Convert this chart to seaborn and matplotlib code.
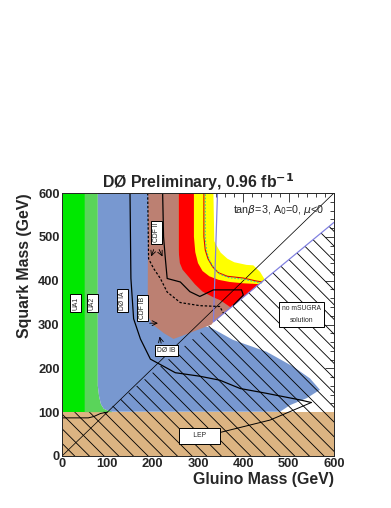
import numpy as np
import pandas as pd
import matplotlib
matplotlib.use('Agg')
import matplotlib.pyplot as plt
import seaborn as sns
from matplotlib.ticker import MultipleLocator

# excluded regions: gluino mass (x) vs squark mass (y), GeV
lep_gl = [0, 600, 600, 0]
lep_sq = [0, 0, 100, 100]

ua1_gl = [0, 50, 50, 0]
ua1_sq = [100, 100, 600, 600]

ua2_gl = [50, 79, 79, 82, 86, 92, 100, 110, 110, 50]
ua2_sq = [600, 600, 160, 135, 118, 108, 104, 102, 100, 100]

blue_gl = [79, 265, 265, 300, 330, 377, 451, 510, 547, 569, 540, 503, 481, 110, 100, 92, 86, 82, 79]
blue_sq = [600, 600, 330, 300, 292, 265, 238, 204, 177, 151, 132, 116, 101, 101, 104, 108, 118, 135, 160]

yellow_gl = [257, 334, 336, 341, 350, 365, 380, 407, 422, 437, 447, 395, 334, 257]
yellow_sq = [600, 600, 490, 480, 464, 450, 442, 436, 435, 420, 403, 358, 306, 330]

red_gl = [257, 291, 291, 294, 300, 310, 325, 345, 370, 400, 436, 395, 334, 257]
red_sq = [600, 600, 500, 465, 440, 422, 410, 402, 397, 394, 392, 358, 306, 330]

brown_gl = [190, 257, 257, 260, 266, 280, 293, 310, 334, 350, 372, 334, 330, 280, 246, 225, 200, 189]
brown_sq = [600, 600, 470, 440, 425, 408, 392, 375, 362, 355, 339, 306, 300, 280, 267, 280, 300, 320]

# no mSUGRA solution (hatched) + LEP
hatch_gl = [0, 600, 600, 334, 100, 90, 0]
hatch_sq = [0, 0, 533, 306, 104, 100, 100]

# limit curves
purple_gl = [343, 334, 600]
purple_sq = [600, 306, 533]

obs_gl = [313, 313, 316, 322, 332, 345, 365, 400, 425, 441]
obs_sq = [600, 500, 470, 450, 432, 418, 410, 406, 400, 397]

d0ia_gl = [150, 152, 158, 173, 195, 250, 304, 348, 393, 451, 525, 550]
d0ia_sq = [600, 405, 313, 267, 221, 190, 182, 173, 154, 143, 128, 122]

solid2_gl = [222, 224, 228, 232, 261, 282, 304, 334, 396, 400, 378]
solid2_sq = [600, 500, 450, 405, 397, 375, 364, 379, 379, 367, 344]

cdf2_gl = [189, 191, 202, 217, 232, 261, 304, 348, 356]
cdf2_sq = [600, 450, 428, 405, 374, 350, 343, 341, 326]

lep_line_gl = [0, 58, 70, 85, 100]
lep_line_sq = [87, 87, 90, 97, 100]

pointer_gl = [342, 459, 550]
pointer_sq = [52, 82, 122]

diag_gl = [0, 600]
diag_sq = [0, 600]

sns.set_style('ticks')
plt.rcParams['font.family'] = ['Liberation Sans', 'DejaVu Sans']
plt.rcParams['hatch.linewidth'] = 0.7

dpi = 88
fig = plt.figure(figsize=(392 / dpi, 508 / dpi), dpi=dpi)
ax = fig.add_axes([62 / 392, 1 - 456 / 508, 272 / 392, 263 / 508])

ax.fill(lep_gl, lep_sq, color='#dcb482', lw=0)
ax.fill(ua1_gl, ua1_sq, color='#00e800', lw=0)
ax.fill(ua2_gl, ua2_sq, color='#5ad45a', lw=0)
ax.fill(blue_gl, blue_sq, color='#7898d0', lw=0)
ax.fill(yellow_gl, yellow_sq, color='#ffff00', lw=0)
ax.fill(red_gl, red_sq, color='#ff0000', lw=0)
ax.fill(brown_gl, brown_sq, color='#bc8072', lw=0)
ax.fill(hatch_gl, hatch_sq, facecolor='none', edgecolor='black', hatch='\\\\', lw=0)


def curve(x, y, **kw):
    df = pd.DataFrame({'gl': x, 'sq': y})
    sns.lineplot(data=df, x='gl', y='sq', sort=False, estimator=None, ax=ax, **kw)


curve(diag_gl, diag_sq, color='black', lw=0.6)
curve(obs_gl, obs_sq, color='#e00000', lw=0.9)
curve([v + 3 for v in obs_gl], [v - 3 for v in obs_sq], color='#30c8a0', lw=0.9, linestyle=(0, (1.5, 1.5)))
curve(purple_gl, purple_sq, color='#7f7fe0', lw=1.0)
curve(d0ia_gl, d0ia_sq, color='black', lw=1.0)
curve(solid2_gl, solid2_sq, color='black', lw=1.0)
curve(cdf2_gl, cdf2_sq, color='black', lw=1.0, linestyle=(0, (2, 1.5)))
curve(lep_line_gl, lep_line_sq, color='black', lw=0.8)
curve(pointer_gl, pointer_sq, color='black', lw=0.8)

box = dict(boxstyle='square,pad=0.3', fc='white', ec='black', lw=0.8)
lab_kw = dict(fontsize=5.5, ha='center', va='center', bbox=box)
ax.text(30, 349, 'UA1', rotation=90, **lab_kw)
ax.text(67, 349, 'UA2', rotation=90, **lab_kw)
ax.text(133, 355, 'DØ IA', rotation=90, **lab_kw)
ax.text(178, 337, 'CDF IB', rotation=90, **lab_kw)
ax.text(208, 510, 'CDF II', rotation=90, **lab_kw)
ax.text(231, 240, 'DØ IB', **lab_kw)
ax.text(303, 46, '     LEP     ', fontsize=5.5, ha='center', va='center',
        bbox=dict(boxstyle='square,pad=0.7', fc='white', ec='black', lw=0.8))
ax.text(529, 323, 'no mSUGRA\nsolution', fontsize=5.5, ha='center', va='center',
        linespacing=1.9, bbox=dict(boxstyle='square,pad=0.45', fc='white', ec='black', lw=0.8))

arrow = dict(arrowstyle='->', color='black', lw=0.7)
ax.annotate('', xy=(195, 450), xytext=(204, 476), arrowprops=arrow)
ax.annotate('', xy=(224, 450), xytext=(212, 476), arrowprops=arrow)
ax.annotate('', xy=(217, 303), xytext=(188, 303), arrowprops=arrow)
ax.annotate('', xy=(214, 278), xytext=(220, 252), arrowprops=arrow)

ax.text(578, 561, r'tan$\beta$=3, A$_0$=0, $\mu$<0', fontsize=8.8, ha='right', va='center')

ax.set_xlim(0, 600)
ax.set_ylim(0, 600)
ax.xaxis.set_major_locator(MultipleLocator(100))
ax.yaxis.set_major_locator(MultipleLocator(100))
ax.xaxis.set_minor_locator(MultipleLocator(20))
ax.yaxis.set_minor_locator(MultipleLocator(20))
ax.tick_params(which='both', direction='in', top=True, right=True, width=0.7)
ax.tick_params(which='major', length=7, labelsize=10.5, pad=2)
ax.tick_params(which='minor', length=3.5)
for lbl in ax.get_xticklabels() + ax.get_yticklabels():
    lbl.set_fontweight('bold')
for s in ax.spines.values():
    s.set_linewidth(0.8)

ax.set_xlabel('Gluino Mass (GeV)', fontsize=13, fontweight='bold', loc='right')
ax.set_ylabel('Squark Mass (GeV)', fontsize=13, fontweight='bold', loc='top')
ax.xaxis.set_label_coords(1.0, -0.062)
ax.yaxis.set_label_coords(-0.11, 1.0)
ax.set_title(r'DØ Preliminary, 0.96 fb$^{\mathbf{-1}}$', fontsize=13, fontweight='bold', pad=4)

fig.savefig('out.png', dpi=dpi)
